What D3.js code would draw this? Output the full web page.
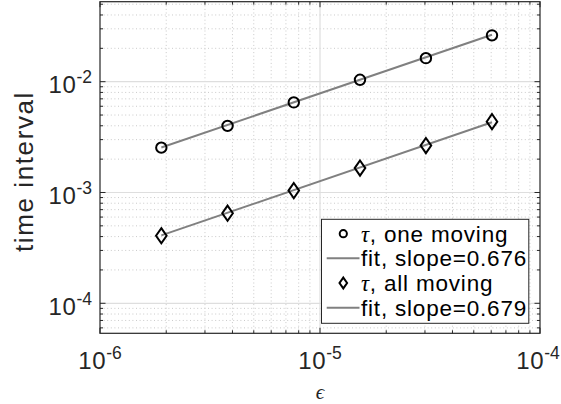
<!DOCTYPE html>
<html><head><meta charset="utf-8">
<script src="https://cdn.jsdelivr.net/npm/d3@7"></script>
<style>body{margin:0;background:#fff}svg{display:block}</style>
</head><body><svg id="c" width="561" height="404"></svg>
<script>
// ---- data ----
const epsilon = [1.9e-6, 3.8e-6, 7.6e-6, 1.52e-5, 3.03e-5, 6.05e-5];
const tauOne  = [2.54e-3, 3.99e-3, 6.5e-3, 1.04e-2, 1.63e-2, 2.62e-2];
const tauAll  = [4.07e-4, 6.5e-4, 1.04e-3, 1.66e-3, 2.65e-3, 4.36e-3];
const fitX    = [1.9e-6, 6.05e-5];
const fitOne  = [2.55e-3, 2.65e-2];
const fitAll  = [4.1e-4, 4.3e-3];
const xTickExp = [-6, -5, -4];
const yTickExp = [-4, -3, -2];
const legendLabels = [
  {sym:"circle", tau:true, text:", one moving"},
  {sym:"line", text:"fit, slope=0.676"},
  {sym:"diamond", tau:true, text:", all moving"},
  {sym:"line", text:"fit, slope=0.679"}
];

const svg = d3.select("#c");
const W = 561;
const L=100, R=540, T=1.7, B=333.3;
const x = d3.scaleLog().domain([1e-6, 1e-4]).range([L, R]);
const y = d3.scaleLog().domain([5.36e-5, 0.0527]).range([B, T]);
const axisCol = "#262626", font = "'Liberation Sans', Arial, Helvetica, sans-serif";

function minorVals(dom){
  const out=[];
  const lo=Math.floor(Math.log10(dom[0])), hi=Math.ceil(Math.log10(dom[1]));
  for(let e=lo;e<hi;e++) for(let m=2;m<=9;m++){const v=m*Math.pow(10,e); if(v>dom[0]*1.0001 && v<dom[1]*0.9999) out.push(v);}
  return out;
}
const xMinor = minorVals(x.domain()), yMinor = minorVals(y.domain());
const xMajor = xTickExp.map(e=>Math.pow(10,e)), yMajor = yTickExp.map(e=>Math.pow(10,e));

const g = svg.append("g");
// minor grid (dotted)
g.selectAll(".xm").data(xMinor).join("line")
  .attr("x1",d=>x(d)).attr("x2",d=>x(d)).attr("y1",T).attr("y2",B)
  .attr("stroke","#c4c4c4").attr("stroke-width",0.9).attr("stroke-dasharray","1,2.6");
g.selectAll(".ym").data(yMinor).join("line")
  .attr("y1",d=>y(d)).attr("y2",d=>y(d)).attr("x1",L).attr("x2",R)
  .attr("stroke","#c4c4c4").attr("stroke-width",0.9).attr("stroke-dasharray","1,2.6");
// major grid (solid)
g.selectAll(".xM").data(xMajor.filter(v=>v>1e-6&&v<1e-4)).join("line")
  .attr("x1",d=>x(d)).attr("x2",d=>x(d)).attr("y1",T).attr("y2",B)
  .attr("stroke","#dedede").attr("stroke-width",1.2);
g.selectAll(".yM").data(yMajor).join("line")
  .attr("y1",d=>y(d)).attr("y2",d=>y(d)).attr("x1",L).attr("x2",R)
  .attr("stroke","#dedede").attr("stroke-width",1.2);

// ticks on all sides (inward)
const tk = svg.append("g").attr("stroke",axisCol).attr("stroke-width",1);
function ticksX(vals,len){vals.forEach(v=>{
  tk.append("line").attr("x1",x(v)).attr("x2",x(v)).attr("y1",B).attr("y2",B-len);
  tk.append("line").attr("x1",x(v)).attr("x2",x(v)).attr("y1",T).attr("y2",T+len);});}
function ticksY(vals,len){vals.forEach(v=>{
  tk.append("line").attr("y1",y(v)).attr("y2",y(v)).attr("x1",L).attr("x2",L+len);
  tk.append("line").attr("y1",y(v)).attr("y2",y(v)).attr("x1",R).attr("x2",R-len);});}
ticksX(xMajor,5.5); ticksX(xMinor,3); ticksY(yMajor,5.5); ticksY(yMinor,3);

// box
svg.append("rect").attr("x",L).attr("y",T).attr("width",R-L).attr("height",B-T)
  .attr("fill","none").attr("stroke",axisCol).attr("stroke-width",1.2);

// tick labels
xTickExp.forEach(e=>{
  const t = svg.append("text").attr("x",x(Math.pow(10,e))).attr("y",369)
    .attr("text-anchor","middle").attr("font-family",font).attr("fill",axisCol);
  t.append("tspan").attr("font-size",24).attr("letter-spacing","0.6").text("10");
  t.append("tspan").attr("font-size",17.5).attr("dy",-10).text("-"+(-e));
  // keep the label inside the picture
  const bb = t.node().getBBox();
  if (bb.x + bb.width > W - 1) t.attr("x", +t.attr("x") - (bb.x + bb.width - (W - 1)));
});
yTickExp.forEach(e=>{
  const t = svg.append("text").attr("x",92).attr("y",y(Math.pow(10,e))+11.6)
    .attr("text-anchor","end").attr("font-family",font).attr("fill",axisCol);
  t.append("tspan").attr("font-size",24).attr("letter-spacing","0.6").text("10");
  t.append("tspan").attr("font-size",17.5).attr("dy",-10).text("-"+(-e));
});

// axis labels
svg.append("text").attr("transform","translate(33,171.5) rotate(-90)")
  .attr("text-anchor","middle").attr("font-family",font).attr("font-size",26)
  .attr("letter-spacing","1.6").attr("fill",axisCol).text("time interval");
svg.append("text").attr("x",320).attr("y",399).attr("text-anchor","middle")
  .attr("font-family","'Liberation Serif', 'DejaVu Serif', serif").attr("font-style","italic")
  .attr("font-size",21).attr("fill",axisCol).text("\u03F5");

// fit lines
const line = d3.line().x(d=>x(d[0])).y(d=>y(d[1]));
[fitOne, fitAll].forEach(f=>{
  svg.append("path").attr("d",line(fitX.map((v,i)=>[v,f[i]])))
    .attr("fill","none").attr("stroke","#808080").attr("stroke-width",2);
});

// markers
const diamond = (cx,cy,w,h)=>`M${cx},${cy-h}L${cx+w},${cy}L${cx},${cy+h}L${cx-w},${cy}Z`;
svg.selectAll(".c").data(epsilon.map((v,i)=>[v,tauOne[i]])).join("circle")
  .attr("cx",d=>x(d[0])).attr("cy",d=>y(d[1])).attr("r",5.2)
  .attr("fill","none").attr("stroke","#000").attr("stroke-width",2);
svg.selectAll(".d").data(epsilon.map((v,i)=>[v,tauAll[i]])).join("path")
  .attr("d",d=>diamond(x(d[0]),y(d[1]),5.3,7.6))
  .attr("fill","none").attr("stroke","#000").attr("stroke-width",2);

// legend
const lg = svg.append("g");
lg.append("rect").attr("x",321.5).attr("y",219.3).attr("width",207.3).attr("height",104)
  .attr("fill","#fff").attr("stroke",axisCol).attr("stroke-width",1);
const rowY = [233.7, 258.3, 283, 307.7];
legendLabels.forEach((it,i)=>{
  const cy = rowY[i];
  if(it.sym==="circle") lg.append("circle").attr("cx",343.3).attr("cy",cy).attr("r",3.6)
      .attr("fill","none").attr("stroke","#000").attr("stroke-width",2);
  else if(it.sym==="diamond") lg.append("path").attr("d",diamond(343.3,cy,3.8,5.4))
      .attr("fill","none").attr("stroke","#000").attr("stroke-width",2);
  else lg.append("line").attr("x1",326.7).attr("x2",359.5).attr("y1",cy).attr("y2",cy)
      .attr("stroke","#808080").attr("stroke-width",2);
  const t = lg.append("text").attr("x",361).attr("y",cy+7.8).attr("font-family",font)
    .attr("font-size",22.5).attr("letter-spacing","0.8").attr("fill","#000");
  if(it.tau) t.append("tspan").attr("font-family","'Liberation Serif', serif").attr("font-style","italic").text("\u03C4");
  t.append("tspan").text(it.text);
});
</script></body></html>
